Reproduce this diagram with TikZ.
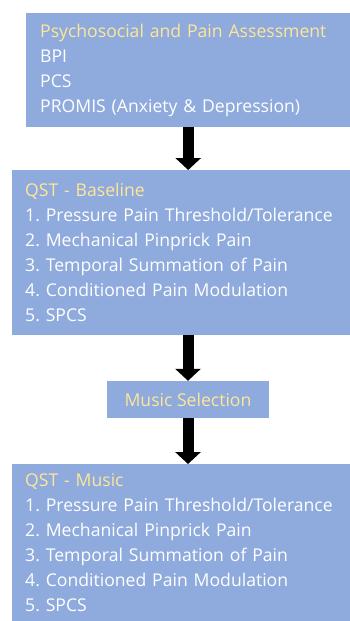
\documentclass[tikz,border=0pt]{standalone}
\usepackage{fontspec}
\setmainfont{Open Sans}
\usetikzlibrary{arrows.meta}
\definecolor{boxblue}{HTML}{8FAADC}
\definecolor{headyellow}{HTML}{FFE699}
\newcommand{\hd}[1]{\textcolor{headyellow}{#1}}
\frenchspacing

\begin{document}
\begin{tikzpicture}[x=1pt,y=-1pt,line join=bevel,
  box/.style={fill=boxblue,text=white,align=left,inner ysep=0pt,anchor=north west,
    font=\fontsize{17.6}{25}\selectfont},
  blk/.style={line width=11pt,-{Triangle[width=25pt,length=12pt]}}]
\useasboundingbox (0,0) rectangle (350,621);
\node[box,inner xsep=14pt,text width=296pt,minimum height=114pt] at (26,13) (s0) {\hd{Psychosocial and Pain Assessment}\\BPI\\PCS\\PROMIS (Anxiety \& Depression)};
\node[box,inner xsep=13pt,text width=312pt,minimum height=165pt] at (12,170) (s1) {\hd{QST - Baseline}\\1. Pressure Pain Threshold/Tolerance\\2. Mechanical Pinprick Pain\\3. Temporal Summation of Pain\\4. Conditioned Pain Modulation\\5. SPCS};
\node[box,anchor=center,align=center,inner xsep=0pt,minimum width=162pt,minimum height=37pt,text=headyellow] at (188,399.5) (s2) {Music Selection};
\node[box,inner xsep=13pt,text width=312pt,minimum height=157pt] at (12,464) (s3) {\hd{QST - Music}\\1. Pressure Pain Threshold/Tolerance\\2. Mechanical Pinprick Pain\\3. Temporal Summation of Pain\\4. Conditioned Pain Modulation\\5. SPCS};

\draw [blk] (s0.south) -- (s0.south |- s1.north);
\draw [blk] (s2.north |- s1.south) -- (s2.north);
\draw [blk] (s2.south) -- (s2.south |- s3.north);
\end{tikzpicture}
\end{document}
